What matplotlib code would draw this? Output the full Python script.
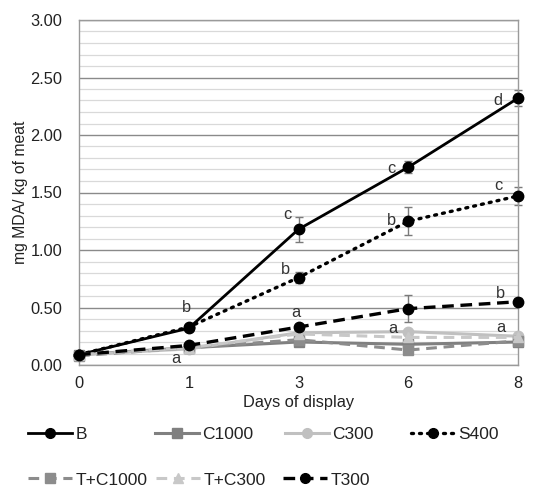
import matplotlib
matplotlib.use("Agg")
import matplotlib.pyplot as plt
from matplotlib.lines import Line2D
import numpy as np

plt.rcParams['font.family'] = ['Liberation Sans', 'DejaVu Sans']

days = ["0", "1", "3", "6", "8"]

B = [0.09, 0.32, 1.18, 1.72, 2.32]
C1000 = [0.09, 0.15, 0.20, 0.18, 0.20]
C300 = [0.09, 0.14, 0.28, 0.29, 0.25]
S400 = [0.09, 0.33, 0.76, 1.25, 1.47]
TC1000 = [0.08, 0.15, 0.22, 0.13, 0.21]
TC300 = [0.09, 0.15, 0.27, 0.24, 0.24]
T300 = [0.09, 0.17, 0.33, 0.49, 0.55]

B_err = [0.0, 0.02, 0.11, 0.05, 0.07]
S400_err = [0.0, 0.02, 0.05, 0.12, 0.08]
T300_err = [0.0, 0.01, 0.03, 0.12, 0.03]

# significance letters: (day index, x offset, y value, letter)
letters = [
    (1, -0.02, 0.50, "b"), (1, -0.12, 0.06, "a"),
    (2, -0.10, 1.31, "c"), (2, -0.12, 0.83, "b"), (2, -0.02, 0.46, "a"),
    (3, -0.15, 1.71, "c"), (3, -0.15, 1.26, "b"), (3, -0.14, 0.32, "a"),
    (4, -0.18, 2.30, "d"), (4, -0.18, 1.56, "c"), (4, -0.16, 0.62, "b"),
    (4, -0.16, 0.33, "a"),
]

x = np.arange(len(days))
FS = 11.8

fig = plt.figure(figsize=(5.48, 4.91), dpi=100)
ax = fig.add_axes([79/548, 1-365/491, (518-79)/548, (365-20)/491])

ax.set_ylim(0, 3.0)
ax.set_xlim(0, len(days)-1)
ax.set_yticks(np.arange(0, 3.01, 0.5))
ax.set_yticklabels([f"{v:.2f}" for v in np.arange(0, 3.01, 0.5)])
ax.set_yticks(np.arange(0, 3.01, 0.1), minor=True)
ax.set_xticks(x)
ax.set_xticklabels(days)
ax.grid(which='minor', axis='y', color='#d9d9d9', lw=0.9)
ax.grid(which='major', axis='y', color='#8a8a8a', lw=1.0)
ax.set_axisbelow(True)
ax.tick_params(which='both', length=0, labelsize=FS, colors='#222222')
ax.tick_params(axis='y', pad=12)
ax.tick_params(axis='x', pad=8)
for s in ax.spines.values():
    s.set_color('#9a9a9a')
    s.set_linewidth(1.0)

ms = 7.5
series = [
    ("B", B, dict(color='black', ls='-', marker='o', lw=2.0)),
    ("C1000", C1000, dict(color='#808080', ls='-', marker='s', lw=2.2)),
    ("C300", C300, dict(color='#c0c0c0', ls='-', marker='o', lw=2.2)),
    ("S400", S400, dict(color='black', ls=(0, (0.6, 1.8)), marker='o', lw=2.4,
                        dash_capstyle='round')),
    ("T+C1000", TC1000, dict(color='#8c8c8c', ls=(0, (3.5, 2.2)), marker='s', lw=2.2)),
    ("T+C300", TC300, dict(color='#c8c8c8', ls=(0, (3.5, 2.2)), marker='^', lw=2.2)),
    ("T300", T300, dict(color='black', ls=(0, (3.5, 2.0)), marker='o', lw=2.4)),
]

handles = {}
for name, vals, st in series:
    ln, = ax.plot(x, vals, ms=ms, clip_on=False, zorder=3, **st)
    handles[name] = (ln, st)

for vals, err in [(B, B_err), (S400, S400_err), (T300, T300_err)]:
    ax.errorbar(x[1:], vals[1:], yerr=err[1:], fmt='none', ecolor='#7a7a7a',
                elinewidth=1.0, capsize=3, capthick=1.0, zorder=2, clip_on=False)

for i, dx, yv, t in letters:
    ax.text(x[i] + dx, yv, t, fontsize=FS, color='#333333', ha='center', va='center')

ax.set_ylabel("mg MDA/ kg of meat", fontsize=11.3, color='#222222', labelpad=2)
ax.set_xlabel("Days of display", fontsize=FS, color='#222222', labelpad=3)

# legend entries placed on a fixed grid
legend_pos = {
    "B": (30, 434), "C1000": (157, 434), "C300": (287, 434), "S400": (413, 434),
    "T+C1000": (30, 480), "T+C300": (158, 480), "T300": (285, 480),
}
for name, (px, py) in legend_pos.items():
    ln, st = handles[name]
    h = Line2D([], [], ms=7, **st)
    lg = fig.legend([h], [name], loc='center left',
                    bbox_to_anchor=(px/548 - 0.004, 1 - py/491),
                    frameon=False, fontsize=12.5, handlelength=2.55,
                    handletextpad=0.2, borderpad=0, borderaxespad=0)
    for txt in lg.get_texts():
        txt.set_color('#222222')

fig.savefig("out.png", dpi=100)
